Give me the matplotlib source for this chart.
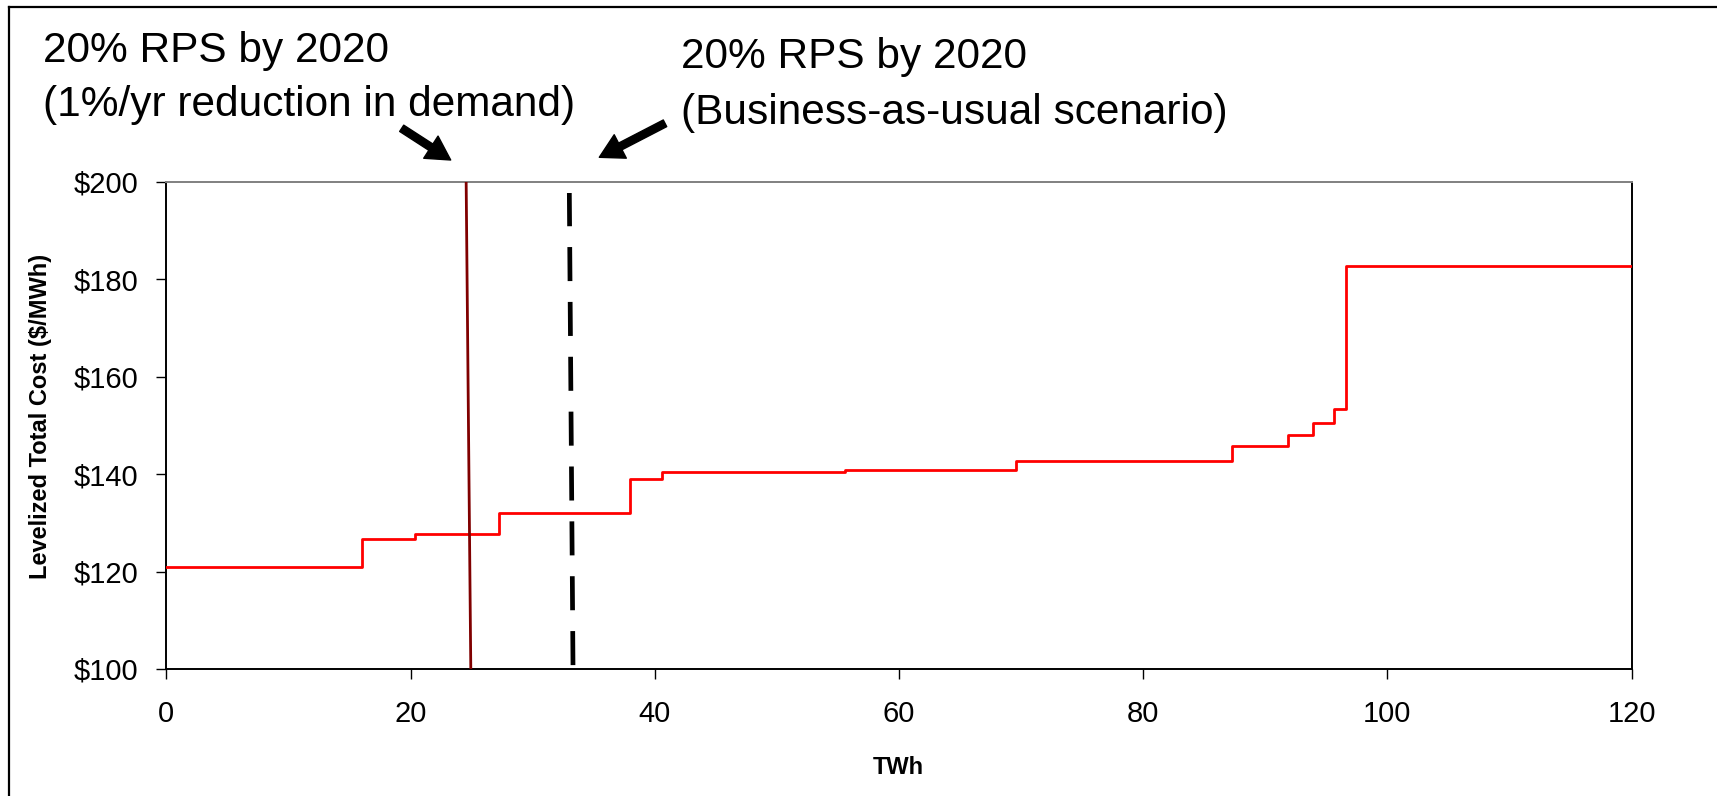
import matplotlib
matplotlib.use("Agg")
import matplotlib.pyplot as plt
from matplotlib.lines import Line2D

plt.rcParams["font.family"] = ["Liberation Sans", "DejaVu Sans"]
plt.rcParams["lines.scale_dashes"] = False

# supply curve: step edges (TWh) and levelized cost for each step ($/MWh)
twh_edges = [0, 16.0, 20.4, 27.2, 38.0, 40.6, 55.6, 69.6, 87.3, 91.9, 93.9, 95.6, 96.6, 120]
cost_levels = [121.0, 126.6, 127.7, 132.1, 138.9, 140.4, 140.9, 142.6, 145.7, 148.1, 150.5, 153.4, 182.7]

# RPS targets (TWh) at bottom / top of the plot
rps_low_demand = [24.93, 24.55]
rps_low_cost = [100, 200]
rps_bau = [33.3, 33.0]
rps_bau_cost = [100.8, 197.7]

x_ticks = [0, 20, 40, 60, 80, 100, 120]
y_ticks = [100, 120, 140, 160, 180, 200]

W, H = 1717, 796
fig = plt.figure(figsize=(W / 100, H / 100), dpi=100)
ax = fig.add_axes([166.4 / W, 1 - 669 / H, 1465.2 / W, 487.2 / H])

ax.step(twh_edges, cost_levels + [cost_levels[-1]], where="post",
        color="#ff0000", lw=2.0, zorder=3)
ax.plot(rps_low_demand, rps_low_cost, color="#800000", lw=2.0, zorder=4)
ax.plot(rps_bau, rps_bau_cost, color="black", lw=3.4, dashes=(24.5, 15),
        solid_capstyle="butt", dash_capstyle="butt", zorder=4)

ax.set_xlim(0, 120)
ax.set_ylim(100, 200)
ax.set_xticks(x_ticks)
ax.set_xticklabels([str(v) for v in x_ticks])
ax.set_yticks(y_ticks)
ax.set_yticklabels(["\\$%d" % v for v in y_ticks])
ax.tick_params(axis="both", direction="out", length=7.2, width=1.0,
               labelsize=21, colors="black")
ax.tick_params(axis="y", pad=13)
ax.tick_params(axis="x", pad=15)

for side in ["left", "bottom", "right"]:
    ax.spines[side].set_color("black")
    ax.spines[side].set_linewidth(1.4)
ax.spines["top"].set_color("#808080")
ax.spines["top"].set_linewidth(1.4)

fig.text(40 / W, 1 - 416 / H, "Levelized Total Cost ($/MWh)", rotation=90,
         ha="center", va="center", fontsize=17, fontweight="bold")
fig.text(898 / W, 1 - 768 / H, "TWh", ha="center", va="center",
         fontsize=17, fontweight="bold")

# scenario labels
fig.text(43 / W, 1 - 62 / H, "20% RPS by 2020", fontsize=30.5, va="baseline")
fig.text(43 / W, 1 - 116 / H, "(1%/yr reduction in demand)", fontsize=30.5, va="baseline")
fig.text(681 / W, 1 - 68 / H, "20% RPS by 2020", fontsize=30.5, va="baseline")
fig.text(681 / W, 1 - 124 / H, "(Business-as-usual scenario)", fontsize=30.5, va="baseline")

arrow_kw = dict(facecolor="black", edgecolor="black", width=5.4,
                headwidth=19, headlength=17, shrink=0)
fig.add_artist(plt.Annotation("", xy=(450.7, H - 160), xycoords="figure pixels",
                              xytext=(401.7, H - 128.3), textcoords="figure pixels",
                              arrowprops=arrow_kw))
fig.add_artist(plt.Annotation("", xy=(599.3, H - 157.3), xycoords="figure pixels",
                              xytext=(665, H - 123.3), textcoords="figure pixels",
                              arrowprops=arrow_kw))

# outer chart frame
fig.add_artist(Line2D([9 / W, 9 / W], [0, 1 - 7.3 / H], transform=fig.transFigure,
                      color="black", lw=1.6))
fig.add_artist(Line2D([9 / W, 1], [1 - 7.3 / H, 1 - 7.3 / H], transform=fig.transFigure,
                      color="black", lw=1.6))

fig.savefig("out.png", dpi=100, facecolor="white")
